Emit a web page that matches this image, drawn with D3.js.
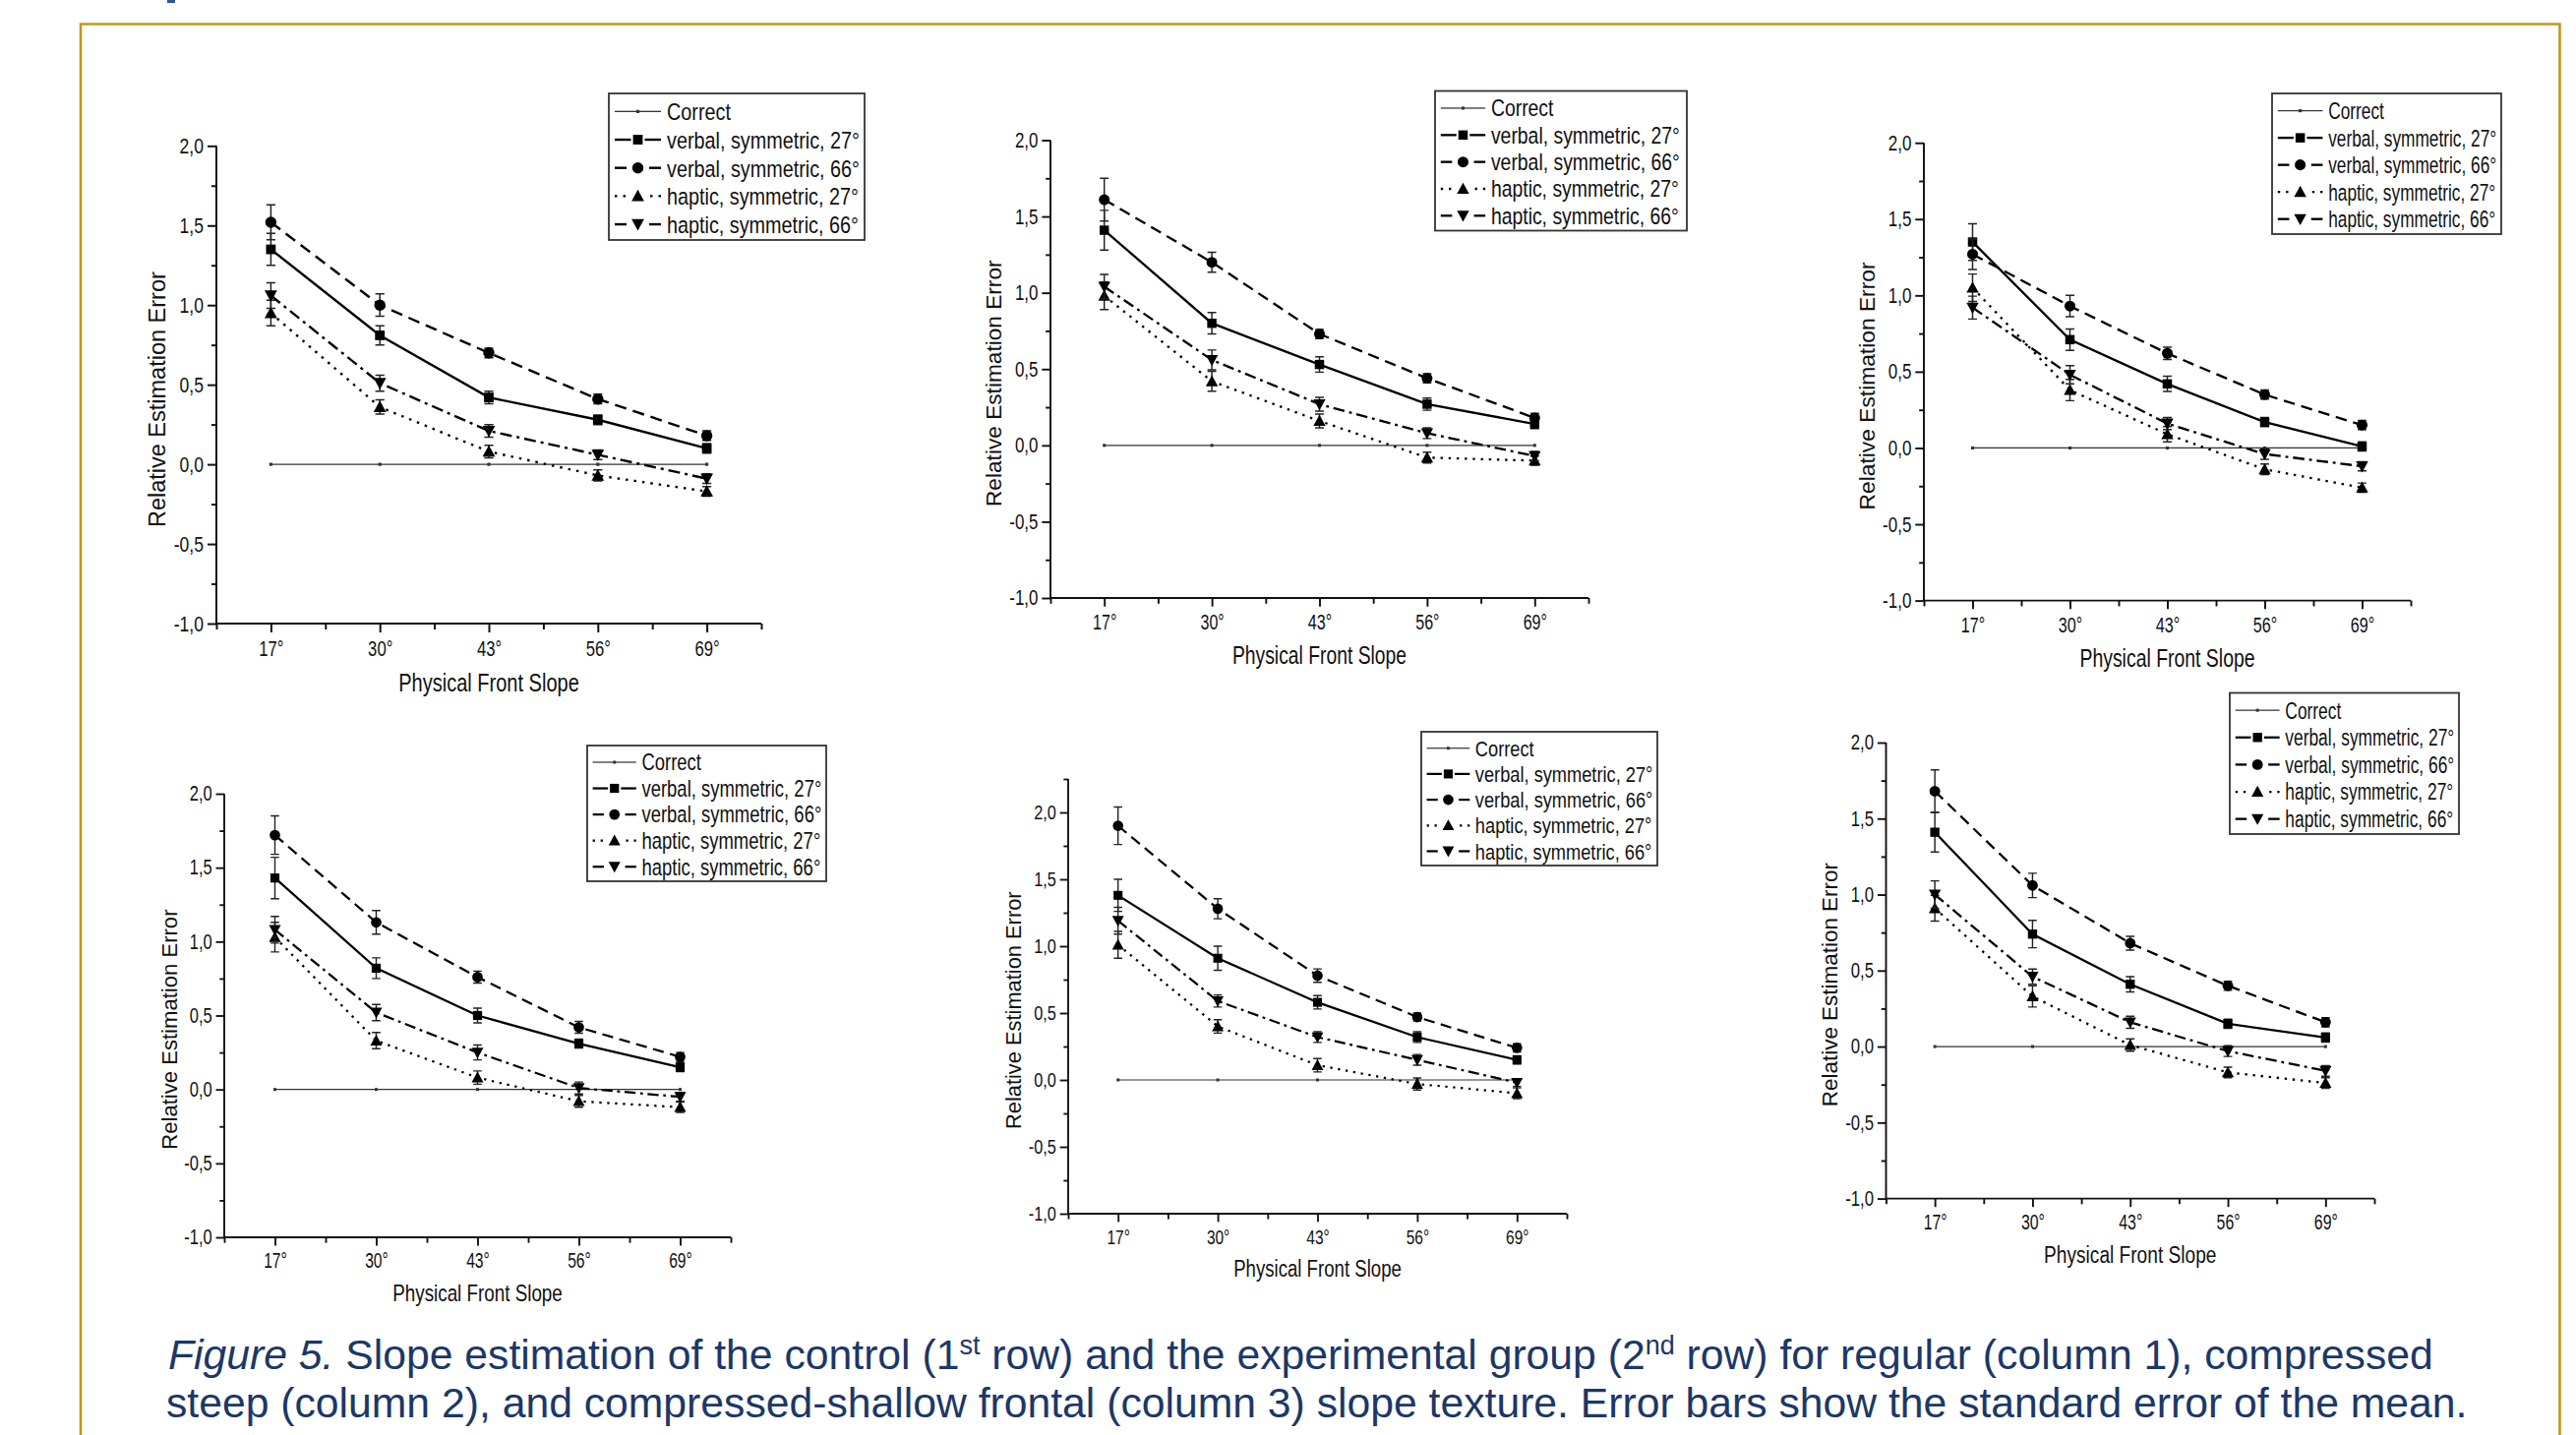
<!DOCTYPE html>
<html>
<head>
<meta charset="utf-8">
<script src="https://cdn.jsdelivr.net/npm/d3@7"></script>
<style>
body { margin: 0; background: #fff; }
svg { display: block; }
</style>
</head>
<body>
<svg id="fig" width="2619" height="1459"></svg>
<script>
const slopes = ["17°", "30°", "43°", "56°", "69°"]
const seriesNames = ["Correct", "verbal, symmetric, 27°", "verbal, symmetric, 66°", "haptic, symmetric, 27°", "haptic, symmetric, 66°"]
const yTickValues = [-1, -0.5, 0, 0.5, 1, 1.5, 2]
const yTickLabels = ["-1,0", "-0,5", "0,0", "0,5", "1,0", "1,5", "2,0"]
const xLabel = "Physical Front Slope"
const yLabel = "Relative Estimation Error"

// panel order: control row (regular, steep, shallow), then experimental row
const correct = [0, 0, 0, 0, 0]
const verbal27 = [
    [1.35, 0.81, 0.42, 0.28, 0.10],
    [1.41, 0.80, 0.53, 0.27, 0.14],
    [1.35, 0.71, 0.42, 0.17, 0.01],
    [1.43, 0.82, 0.50, 0.31, 0.15],
    [1.38, 0.91, 0.58, 0.32, 0.15],
    [1.41, 0.74, 0.41, 0.15, 0.06]]
const verbal66 = [
    [1.52, 1.00, 0.70, 0.41, 0.18],
    [1.61, 1.20, 0.73, 0.44, 0.18],
    [1.27, 0.93, 0.62, 0.35, 0.15],
    [1.72, 1.13, 0.76, 0.42, 0.22],
    [1.90, 1.28, 0.78, 0.47, 0.24],
    [1.68, 1.06, 0.68, 0.40, 0.16]]
const haptic27 = [
    [0.95, 0.36, 0.08, -0.07, -0.17],
    [0.98, 0.42, 0.16, -0.08, -0.10],
    [1.05, 0.38, 0.09, -0.14, -0.26],
    [1.03, 0.33, 0.08, -0.08, -0.12],
    [1.01, 0.40, 0.11, -0.03, -0.10],
    [0.91, 0.33, 0.01, -0.17, -0.24]]
const haptic66 = [
    [1.06, 0.51, 0.21, 0.06, -0.09],
    [1.04, 0.56, 0.27, 0.08, -0.07],
    [0.92, 0.48, 0.16, -0.04, -0.12],
    [1.08, 0.52, 0.25, 0.01, -0.05],
    [1.19, 0.59, 0.32, 0.15, -0.02],
    [1.00, 0.46, 0.16, -0.03, -0.16]]

// standard errors
const seVerbal27 = [
    [0.10, 0.06, 0.04, 0.03, 0.03],
    [0.13, 0.07, 0.05, 0.04, 0.03],
    [0.12, 0.07, 0.05, 0.03, 0.03],
    [0.14, 0.07, 0.05, 0.03, 0.03],
    [0.12, 0.09, 0.05, 0.04, 0.03],
    [0.13, 0.09, 0.05, 0.03, 0.03]]
const seVerbal66 = [
    [0.11, 0.07, 0.03, 0.03, 0.03],
    [0.14, 0.065, 0.03, 0.03, 0.03],
    [0.10, 0.07, 0.04, 0.03, 0.03],
    [0.13, 0.08, 0.04, 0.04, 0.03],
    [0.14, 0.075, 0.05, 0.03, 0.03],
    [0.14, 0.08, 0.045, 0.03, 0.03]]
const seHaptic27 = [
    [0.08, 0.045, 0.04, 0.035, 0.03],
    [0.09, 0.065, 0.045, 0.035, 0.03],
    [0.09, 0.07, 0.05, 0.035, 0.03],
    [0.10, 0.055, 0.045, 0.04, 0.035],
    [0.10, 0.05, 0.05, 0.045, 0.04],
    [0.085, 0.07, 0.04, 0.035, 0.035]]
const seHaptic66 = [
    [0.08, 0.05, 0.04, 0.03, 0.03],
    [0.08, 0.065, 0.045, 0.035, 0.03],
    [0.075, 0.06, 0.04, 0.035, 0.03],
    [0.09, 0.055, 0.05, 0.04, 0.03],
    [0.10, 0.045, 0.04, 0.04, 0.03],
    [0.09, 0.05, 0.04, 0.035, 0.035]]

const captionLine1 = [
    {t: "Figure 5.", italic: true},
    {t: " Slope estimation of the control (1"},
    {t: "st", sup: true},
    {t: " row) and the experimental group (2"},
    {t: "nd", sup: true},
    {t: " row) for regular (column 1), compressed"}]
const captionLine2 = "steep (column 2), and compressed-shallow frontal (column 3) slope texture. Error bars show the standard error of the mean."

// -------- layout --------

const FONT = "'Liberation Sans', Arial, sans-serif"
const panels = [
    {x0: 220, x1: 774, yTop: 148.3, yBot: 634, yMax: 2, s: 1.0, labShift: 15, leg: [619, 95, 260, 149]},
    {x0: 1068, x1: 1615, yTop: 142.5, yBot: 608, yMax: 2, s: 0.965, labShift: 15, leg: [1459, 92.5, 256, 142]},
    {x0: 1956, x1: 2451, yTop: 145.2, yBot: 610.6, yMax: 2, s: 0.97, labShift: 15, leg: [2310, 95, 233, 143]},
    {x0: 228, x1: 743, yTop: 807, yBot: 1258, yMax: 2, s: 0.94, labShift: 15, leg: [597, 758, 243, 138]},
    {x0: 1086, x1: 1593, yTop: 826, yBot: 1234, yMax: 2.25, s: 0.93, labShift: -3, leg: [1445, 744, 240, 136]},
    {x0: 1917.5, x1: 2414, yTop: 755, yBot: 1218.6, yMax: 2, s: 0.955, labShift: 15, leg: [2267, 704.5, 233, 143.5]}]

const styles = [
    {values: () => correct, se: null, dash: null, width: 1.3, color: "#333", marker: "tiny"},
    {values: i => verbal27[i], se: i => seVerbal27[i], dash: null, width: 2.4, color: "#000", marker: "square"},
    {values: i => verbal66[i], se: i => seVerbal66[i], dash: [12, 7], width: 2.4, color: "#000", marker: "circle"},
    {values: i => haptic27[i], se: i => seHaptic27[i], dash: [2.5, 6], width: 2.4, color: "#000", marker: "triUp"},
    {values: i => haptic66[i], se: i => seHaptic66[i], dash: [12, 5, 3, 5], width: 2.4, color: "#000", marker: "triDown"}]

function condense(sel, k) {
    sel.each(function() {
        let w = this.getComputedTextLength()
        d3.select(this).attr("textLength", w * k).attr("lengthAdjust", "spacingAndGlyphs")
    })
}

function markerPath(type, s) {
    if (type === "square") {
        let h = 4.9 * s
        return `M${-h},${-h}h${2 * h}v${2 * h}h${-2 * h}Z`
    }
    if (type === "tiny") {
        let h = 1.6 * s
        return `M${-h},${-h}h${2 * h}v${2 * h}h${-2 * h}Z`
    }
    if (type === "circle") {
        let r = 5.7 * s
        return `M${-r},0a${r},${r} 0 1,0 ${2 * r},0a${r},${r} 0 1,0 ${-2 * r},0Z`
    }
    let b = 6.4 * s, t = 6.5 * s, u = 5.2 * s
    if (type === "triUp") return `M0,${-t}L${b},${u}L${-b},${u}Z`
    return `M0,${t}L${b},${-u}L${-b},${-u}Z`
}

function drawPanel(svg, p, i) {
    let s = p.s
    let g = svg.append("g").attr("class", "panel")
    let x = d3.scaleLinear().domain([-0.5, 4.5]).range([p.x0, p.x1])
    let y = d3.scaleLinear().domain([-1, 2]).range([p.yBot, p.yTop])
    let yEnd = y(p.yMax)

    // y axis
    let yAxis = d3.axisLeft(y)
        .tickValues(yTickValues)
        .tickFormat(d => yTickLabels[yTickValues.indexOf(d)])
        .tickSize(9 * s)
        .tickPadding(4 * s)
        .tickSizeOuter(0)
    let gy = g.append("g")
        .attr("class", "y axis")
        .attr("transform", "translate(" + p.x0 + ",0)")
        .call(yAxis)
    gy.select(".domain").attr("d", `M0,${yEnd}V${p.yBot}`)
    let gyMinor = g.append("g")
        .attr("transform", "translate(" + p.x0 + ",0)")
        .call(d3.axisLeft(y).tickValues(d3.range(-0.75, p.yMax + 0.01, 0.5)).tickSize(5 * s).tickFormat(""))
    gyMinor.select(".domain").remove()

    // x axis
    let xAxis = d3.axisBottom(x)
        .tickValues([0, 1, 2, 3, 4])
        .tickFormat(j => slopes[j])
        .tickSize(9 * s)
        .tickPadding(8 * s)
        .tickSizeOuter(0)
    let gx = g.append("g")
        .attr("class", "x axis")
        .attr("transform", "translate(0," + p.yBot + ")")
        .call(xAxis)
    gx.select(".domain").attr("d", `M${p.x0},0H${p.x1}`)
    let gxMinor = g.append("g")
        .attr("transform", "translate(0," + p.yBot + ")")
        .call(d3.axisBottom(x).tickValues(d3.range(-0.5, 4.6, 1)).tickSize(6 * s).tickFormat(""))
    gxMinor.select(".domain").remove()

    g.selectAll(".tick line, .domain")
        .attr("stroke", "#111")
        .attr("stroke-width", 2 * s)
    gy.selectAll("text").attr("font-size", 22.5 * s).attr("font-family", FONT).attr("fill", "#111")
    gx.selectAll("text").attr("font-size", 22.5 * s).attr("font-family", FONT).attr("fill", "#111")
    condense(gy.selectAll("text"), 0.78)
    condense(gx.selectAll("text"), 0.74)

    // axis titles
    let xt = g.append("text")
        .attr("x", (p.x0 + p.x1) / 2)
        .attr("y", p.yBot + 69 * s)
        .attr("text-anchor", "middle")
        .attr("font-family", FONT)
        .attr("font-size", 26 * s)
        .attr("fill", "#111")
        .text(xLabel)
    condense(xt, 0.77)
    let yMid = (p.yTop + p.yBot) / 2 + p.labShift * s
    g.append("text")
        .attr("transform", `translate(${p.x0 - 60 * s},${yMid}) rotate(-90)`)
        .attr("dy", "0.36em")
        .attr("text-anchor", "middle")
        .attr("font-family", FONT)
        .attr("font-size", 23.5 * s)
        .attr("fill", "#111")
        .text(yLabel)

    // lines
    let line = d3.line().x((d, j) => x(j)).y(d => y(d))
    styles.forEach((st, k) => {
        g.append("path")
            .attr("class", "series-" + k)
            .attr("d", line(st.values(i)))
            .attr("fill", "none")
            .attr("stroke", st.color)
            .attr("stroke-width", st.width * s)
            .attr("stroke-dasharray", st.dash ? st.dash.map(v => v * s).join(",") : null)
    })

    // error bars + markers
    styles.forEach((st, k) => {
        let vals = st.values(i)
        if (st.se) {
            let se = st.se(i)
            let cap = 4.6 * s
            g.append("g").selectAll("path")
                .data(vals)
                .join("path")
                .attr("d", (d, j) => {
                    let cx = x(j), lo = y(d - se[j]), hi = y(d + se[j])
                    return `M${cx},${lo}V${hi}M${cx - cap},${hi}H${cx + cap}M${cx - cap},${lo}H${cx + cap}`
                })
                .attr("fill", "none")
                .attr("stroke", "#222")
                .attr("stroke-width", 1.5 * s)
        }
        g.append("g").selectAll("path")
            .data(vals)
            .join("path")
            .attr("transform", (d, j) => `translate(${x(j)},${y(d)})`)
            .attr("d", markerPath(st.marker, s))
            .attr("fill", st.color)
    })

    // legend
    let [lx, ly, lw, lh] = p.leg
    let lg = g.append("g").attr("class", "legend")
    lg.append("rect")
        .attr("x", lx).attr("y", ly).attr("width", lw).attr("height", lh)
        .attr("fill", "#fff")
        .attr("stroke", "#333")
        .attr("stroke-width", 1.8)
    let texts = []
    styles.forEach((st, k) => {
        let ry = ly + lh * 0.123 + k * lh * 0.1925
        let a = lx + 6 * s, b = lx + 53 * s, m = (a + b) / 2
        let gap = st.marker === "tiny" ? 0 : 7 * s
        let segs = [`M${a},${ry}H${m - gap}`, `M${b},${ry}H${m + gap}`]
        segs.forEach(d => {
            lg.append("path")
                .attr("d", d)
                .attr("stroke", st.color)
                .attr("stroke-width", st.width * s)
                .attr("stroke-dasharray", st.dash ? st.dash.map(v => v * s).join(",") : null)
        })
        lg.append("path")
            .attr("transform", `translate(${m},${ry})`)
            .attr("d", markerPath(st.marker, s))
            .attr("fill", st.color)
        texts.push(lg.append("text")
            .attr("x", lx + 59 * s)
            .attr("y", ry)
            .attr("dy", "0.36em")
            .attr("font-family", FONT)
            .attr("font-size", 24.5 * s)
            .attr("fill", "#111")
            .text(seriesNames[k]))
    })
    // squeeze the legend text so the longest entry fits in the box
    let maxW = d3.max(texts, t => t.node().getComputedTextLength())
    let k = Math.min(0.82, (lx + lw - 5 * s - (lx + 59 * s)) / maxW)
    texts.forEach(t => condense(t, k))
}

function drawFrame(svg) {
    svg.append("rect")
        .attr("x", 170).attr("y", 0).attr("width", 8).attr("height", 3)
        .attr("fill", "#2f5597")
    svg.append("path")
        .attr("d", "M82,1470V24.5H2602.5V1470")
        .attr("fill", "none")
        .attr("stroke", "#c4961a")
        .attr("stroke-width", 2.6)
}

function drawCaption(svg) {
    let color = "#1c3768"
    let t1 = svg.append("text")
        .attr("x", 171)
        .attr("y", 1392)
        .attr("font-family", FONT)
        .attr("font-size", 42.7)
        .attr("fill", color)
    let shift = 0
    captionLine1.forEach(part => {
        let ts = t1.append("tspan").text(part.t)
        if (part.italic) ts.attr("font-style", "italic")
        if (part.sup) {
            ts.attr("font-size", 27).attr("dy", -15)
            shift = 15
        } else if (shift) {
            ts.attr("dy", shift)
            shift = 0
        }
    })
    svg.append("text")
        .attr("x", 169)
        .attr("y", 1441)
        .attr("font-family", FONT)
        .attr("font-size", 42.7)
        .attr("fill", color)
        .text(captionLine2)
}

let svg = d3.select("svg#fig")
drawFrame(svg)
panels.forEach((p, i) => drawPanel(svg, p, i))
drawCaption(svg)
</script>
</body>
</html>
